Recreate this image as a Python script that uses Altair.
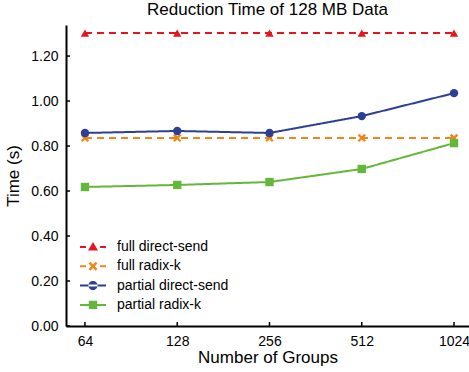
import altair as alt
import pandas as pd

groups = [64, 128, 256, 512, 1024]
series_names = ["full direct-send", "full radix-k", "partial direct-send", "partial radix-k"]
full_direct_send = [1.302, 1.302, 1.302, 1.302, 1.302]
full_radix_k = [0.836, 0.836, 0.836, 0.836, 0.836]
partial_direct_send = [0.858, 0.867, 0.858, 0.933, 1.035]
partial_radix_k = [0.618, 0.627, 0.640, 0.698, 0.813]
y_ticks = [0, 0.2, 0.4, 0.6, 0.8, 1.0, 1.2]

colors = ["#e8141c", "#f0861a", "#2c3f97", "#63b73a"]
dashes = [[7, 5], [7, 5], [1, 0], [1, 0]]
xshape = "M-1,-0.6L-0.6,-1L0,-0.4L0.6,-1L1,-0.6L0.4,0L1,0.6L0.6,1L0,0.4L-0.6,1L-1,0.6L-0.4,0Z"
shapes = ["triangle-up", xshape, "circle", "square"]

# legend glyphs: line segment (solid or dashed) with the marker in the middle
DASHED = "M-13,-1H-7V1H-13Z M7,-1H13V1H7Z "
SOLID = "M-13,-1H13V1H-13Z "
legend_glyphs = [
    DASHED + "M0,-5L5,3.5L-5,3.5Z",
    DASHED + "M-4.5,-2.7L-2.7,-4.5L0,-1.8L2.7,-4.5L4.5,-2.7L1.8,0L4.5,2.7L2.7,4.5L0,1.8L-2.7,4.5L-4.5,2.7L-1.8,0Z",
    SOLID + "M-4.6,0A4.6,4.6 0 1,0 4.6,0A4.6,4.6 0 1,0 -4.6,0Z",
    SOLID + "M-4.2,-4.2H4.2V4.2H-4.2Z",
]

rows = []
for name, vals in zip(series_names, [full_direct_send, full_radix_k, partial_direct_send, partial_radix_k]):
    for g, v in zip(groups, vals):
        rows.append({"groups": g, "time": v, "series": name, "legend_series": name})
df = pd.DataFrame(rows)

FONT = "Liberation Sans"

xscale = alt.Scale(type="log", base=2, domain=[55.5, 1146], nice=False)
yscale = alt.Scale(domain=[0, 1.338], nice=False)

x = alt.X("groups:Q", title="Number of Groups", scale=xscale,
          axis=alt.Axis(values=groups, format="d", labelFlush=False))
y = alt.Y("time:Q", title="Time (s)", scale=yscale,
          axis=alt.Axis(values=y_ticks, format=".2f"))

base = alt.Chart(df)

lines = base.mark_line(strokeWidth=2).encode(
    x=x, y=y,
    color=alt.Color("series:N", scale=alt.Scale(domain=series_names, range=colors), legend=None),
    strokeDash=alt.StrokeDash("series:N", scale=alt.Scale(domain=series_names, range=dashes), legend=None),
)

points = base.mark_point(filled=True, size=70, opacity=1).encode(
    x=x, y=y,
    color=alt.Color("series:N", scale=alt.Scale(domain=series_names, range=colors), legend=None),
    shape=alt.Shape("series:N", scale=alt.Scale(domain=series_names, range=shapes), legend=None),
)

legend = alt.Legend(title=None, orient="none", legendX=20, legendY=215, padding=0,
                    symbolSize=4, symbolStrokeWidth=0, symbolOpacity=1,
                    labelFontSize=14, rowPadding=5.3, labelOffset=17)
legend_layer = base.mark_point(filled=True, opacity=0, size=4).encode(
    x=x, y=y,
    color=alt.Color("legend_series:N", scale=alt.Scale(domain=series_names, range=colors), legend=legend),
    shape=alt.Shape("legend_series:N", scale=alt.Scale(domain=series_names, range=legend_glyphs), legend=legend),
)

# inward tick marks
yt = alt.Chart(pd.DataFrame({"time": y_ticks})).mark_rule(color="black", strokeWidth=1.5).encode(
    y=y, x=alt.value(0), x2=alt.value(4))
xt = alt.Chart(pd.DataFrame({"groups": groups})).mark_rule(color="black", strokeWidth=1.5).encode(
    x=x, y=alt.value(297), y2=alt.value(301))

chart = alt.layer(lines, points, legend_layer, yt, xt).resolve_scale(
    shape="independent", color="independent"
).resolve_legend(
    shape="independent", color="independent"
).properties(
    width=403, height=301,
    title=alt.TitleParams("Reduction Time of 128 MB Data", fontSize=17, font=FONT,
                          fontWeight="normal", anchor="middle", offset=6),
    autosize=alt.AutoSizeParams(type="none"),
    padding={"left": 66, "top": 25, "right": 0, "bottom": 46},
).configure_view(
    strokeWidth=0
).configure_axis(
    domainColor="black", domainWidth=2, ticks=False,
    grid=False, labelFont=FONT, labelFontSize=14, labelColor="black",
    titleFont=FONT, titleFontSize=17, titleFontWeight="normal", titleColor="black",
    labelPadding=8,
).configure_axisY(titlePadding=8).configure_axisX(titlePadding=1).configure_legend(
    labelFont=FONT, labelColor="black"
)

chart.save("out.html", embed_options={"renderer": "svg", "actions": False})
